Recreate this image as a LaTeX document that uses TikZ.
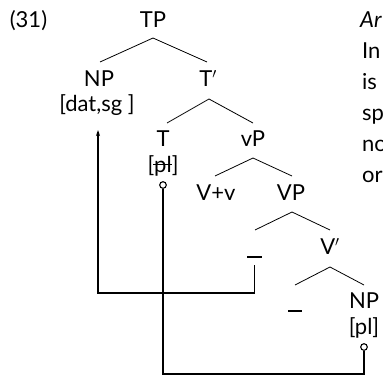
\documentclass[tikz,border=0pt]{standalone}
\usepackage{fontspec}
\setmainfont{Lato}
\usetikzlibrary{calc,arrows.meta}
\newcommand\strk[1]{\begingroup\setbox0\hbox{#1}\rlap{\kern-1pt\rule[0.3em]{\dimexpr\wd0+1pt\relax}{0.07em}}\box0\endgroup}
\begin{document}
\begin{tikzpicture}[x=1pt,y=-1pt,
  lbl/.style={anchor=base,inner sep=0pt,font=\fontsize{22}{26}\selectfont},
  edge/.style={line width=0.8pt},
  conn/.style={line width=1.5pt},
  ring/.style={circle,draw,line width=1.1pt,fill=white,inner sep=0pt,minimum size=6.6pt},
]
\useasboundingbox (0,0) rectangle (383,375);
% labels
\node[lbl] (ex) at (28.5,27) {(31)};
\node[lbl] (TP) at (153,27) {TP};
\node[lbl] (NP1) at (99,86) {NP};
\node[lbl] (F1) at (97,111) {[dat,sg\ ]};
\node[lbl] (Tb) at (208,86) {T$'$};
\node[lbl] (T) at (163,146) {T};
\node[lbl] (Tf) at (163,172) {[\strk{pl}]};
\node[lbl] (vP) at (253,146) {vP};
\node[lbl] (Vv) at (216,200) {V+v};
\node[lbl] (VP) at (291,200) {VP};
\node[lbl] (t1) at (254.5,254) {\rule[-4pt]{15pt}{2pt}};
\node[lbl] (Vb) at (330,254) {V$'$};
\node[lbl] (t2) at (295,308) {\rule[-4pt]{14pt}{2pt}};
\node[lbl] (NP2) at (364,308) {NP};
\node[lbl] (F2) at (364,334) {[pl]};
\node[ring] (o1) at (163,185) {};
\node[ring] (o2) at (364,347) {};
% tree edges
\draw[edge] ($(TP.base)+(0,11)$) -- ($(NP1.base)+(1,-24)$);
\draw[edge] ($(TP.base)+(0,11)$) -- ($(Tb.base)+(-1,-24)$);
\draw[edge] ($(Tb.base)+(1,13)$) -- ($(T.base)+(4,-23)$);
\draw[edge] ($(Tb.base)+(1,13)$) -- ($(vP.base)+(0,-23)$);
\draw[edge] ($(vP.base)+(0,12)$) -- ($(Vv.base)+(-1,-24)$);
\draw[edge] ($(vP.base)+(0,12)$) -- ($(VP.base)+(1,-24)$);
\draw[edge] ($(VP.base)+(1,12)$) -- ($(t1.base)+(0.5,-24)$);
\draw[edge] ($(VP.base)+(1,12)$) -- ($(Vb.base)+(0,-24)$);
\draw[edge] ($(Vb.base)+(0,13)$) -- ($(t2.base)+(0,-23)$);
\draw[edge] ($(Vb.base)+(0,13)$) -- ($(NP2.base)+(0,-23)$);
% connectors
\draw[conn,-{Stealth[length=6pt,width=4pt]}] ($(t1.base)+(0,11)$) |- ($(NP1.base)+(-1,207)$) -- ($(NP1.base)+(-1,44)$);
\draw[conn] (o1.south) |- ($(o2.south)+(0,23)$) -- (o2.south);
% cut-off running text
\begin{scope}
\clip (0,0) rectangle (383,375);
\node[lbl,anchor=base west] (w1) at (360,27) {\textit{Ar}};
\node[lbl,anchor=base west] (w2) at (362,58) {In};
\node[lbl,anchor=base west] (w3) at (362,89) {is};
\node[lbl,anchor=base west] (w4) at (362,120) {sp};
\node[lbl,anchor=base west] (w5) at (362,151) {no};
\node[lbl,anchor=base west] (w6) at (362,182) {or};
\end{scope}
\end{tikzpicture}
\end{document}
